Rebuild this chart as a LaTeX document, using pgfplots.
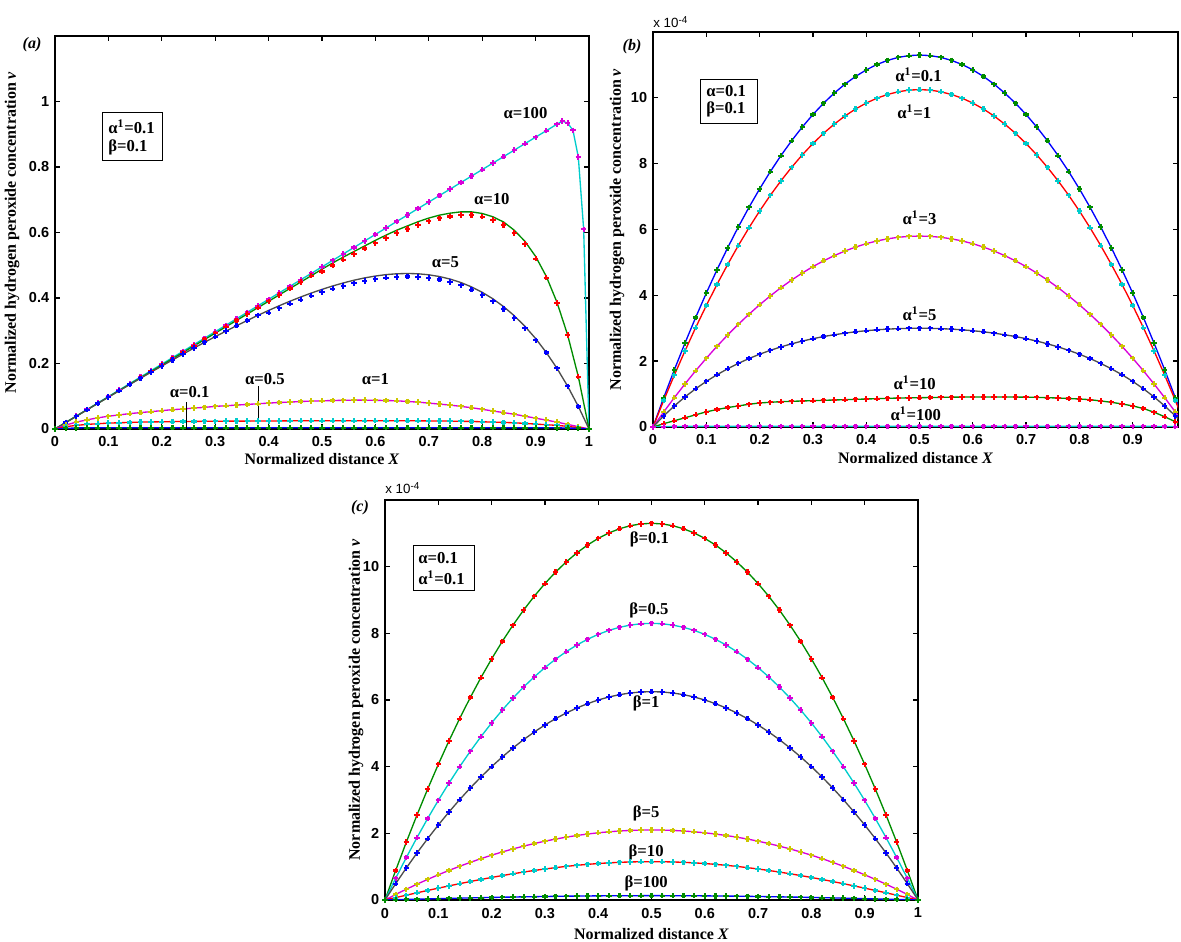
\documentclass[border=0pt]{standalone}
\usepackage{fontspec}
\setmainfont{Liberation Serif}
\newfontfamily\arial{Liberation Sans}
\usepackage{pgfplots}
\usepackage{pgfplotstable}
\pgfplotsset{compat=1.18}
\newlength\px \setlength\px{0.6pt}
\definecolor{mred}{rgb}{1,0,0}
\definecolor{mblue}{rgb}{0,0,1}
\definecolor{mgreen}{rgb}{0,0.55,0}
\definecolor{mmag}{rgb}{0.85,0,0.85}
\definecolor{mcyan}{rgb}{0,0.8,0.8}
\definecolor{myel}{rgb}{0.8,0.78,0}
\definecolor{mgray}{rgb}{0.3,0.3,0.3}
\newcommand\tickfont{\arial\bfseries\fontsize{8.7}{10}\selectfont}
\newcommand\labfont{\bfseries\fontsize{9.6}{11}\selectfont}
\newcommand\annfont{\bfseries\fontsize{10}{12}\selectfont}

\pgfplotstableread{
x a10 a10m a5 a5m a1 a05 a01
0 0 0 0 0 0 0 0
0.02 0.0195 0.0195 0.0196 0.0196 0.012 0.007 0.002
0.04 0.039 0.039 0.0391 0.0391 0.021 0.011 0.003
0.06 0.0585 0.0585 0.0586 0.0586 0.028 0.014 0.004
0.08 0.078 0.078 0.078 0.078 0.034 0.016 0.004
0.10 0.0975 0.0975 0.0974 0.0974 0.039 0.018 0.004
0.12 0.117 0.117 0.1166 0.1166 0.043 0.019 0.004
0.14 0.1365 0.1365 0.1358 0.1358 0.047 0.020 0.004
0.16 0.156 0.156 0.1548 0.1548 0.050 0.021 0.004
0.18 0.1755 0.1755 0.1736 0.1736 0.053 0.0215 0.004
0.20 0.195 0.195 0.1923 0.1923 0.056 0.022 0.004
0.22 0.2145 0.2145 0.2107 0.2107 0.059 0.0225 0.004
0.24 0.234 0.234 0.2289 0.2289 0.061 0.023 0.004
0.26 0.2535 0.2535 0.2469 0.2469 0.064 0.023 0.004
0.28 0.273 0.273 0.2646 0.2646 0.066 0.0235 0.004
0.30 0.2925 0.2925 0.2819 0.2819 0.069 0.0235 0.004
0.32 0.312 0.312 0.2988 0.2988 0.071 0.024 0.004
0.34 0.3315 0.3315 0.3154 0.3154 0.073 0.024 0.004
0.36 0.351 0.351 0.3314 0.3314 0.075 0.024 0.004
0.38 0.3705 0.3705 0.3470 0.3470 0.077 0.0245 0.004
0.40 0.390 0.390 0.3620 0.3548 0.079 0.0245 0.004
0.42 0.4095 0.4095 0.3764 0.3689 0.081 0.0245 0.004
0.44 0.429 0.429 0.3901 0.3823 0.082 0.025 0.004
0.46 0.4485 0.4485 0.4030 0.3949 0.084 0.025 0.004
0.48 0.468 0.468 0.4151 0.4068 0.085 0.025 0.004
0.50 0.488 0.481 0.4263 0.4178 0.086 0.025 0.004
0.52 0.507 0.499 0.4367 0.4280 0.087 0.025 0.004
0.54 0.525 0.517 0.4460 0.4371 0.0875 0.025 0.004
0.56 0.542 0.534 0.4543 0.4452 0.088 0.025 0.004
0.58 0.559 0.551 0.4614 0.4522 0.088 0.025 0.004
0.60 0.576 0.567 0.4670 0.4577 0.0875 0.025 0.004
0.62 0.592 0.583 0.4714 0.4620 0.087 0.025 0.004
0.64 0.607 0.598 0.4739 0.4644 0.086 0.025 0.004
0.66 0.620 0.611 0.4749 0.4654 0.084 0.025 0.004
0.68 0.633 0.623 0.4739 0.4644 0.082 0.025 0.004
0.70 0.644 0.634 0.4708 0.4614 0.079 0.0245 0.004
0.72 0.653 0.643 0.4655 0.4562 0.076 0.0245 0.004
0.74 0.659 0.649 0.4577 0.4485 0.073 0.024 0.004
0.76 0.663 0.653 0.4473 0.4384 0.069 0.0235 0.004
0.78 0.663 0.653 0.4339 0.4252 0.065 0.023 0.004
0.80 0.658 0.648 0.4174 0.4091 0.060 0.022 0.004
0.82 0.648 0.638 0.3975 0.3896 0.055 0.021 0.004
0.84 0.632 0.623 0.3737 0.3662 0.050 0.020 0.004
0.86 0.607 0.598 0.3459 0.3390 0.045 0.019 0.004
0.88 0.573 0.565 0.3134 0.3071 0.039 0.017 0.004
0.90 0.527 0.520 0.2763 0.2708 0.033 0.015 0.004
0.92 0.466 0.462 0.2336 0.2336 0.027 0.013 0.004
0.94 0.387 0.385 0.1854 0.1854 0.021 0.011 0.0035
0.96 0.287 0.287 0.1306 0.1306 0.014 0.008 0.003
0.98 0.160 0.160 0.0689 0.0689 0.007 0.004 0.002
1.00 0 0 0 0 0 0 0
}\tabA

\pgfplotstableread{
x y
0 0
0.02 0.0198
0.04 0.0396
0.06 0.0594
0.08 0.0792
0.10 0.099
0.12 0.1188
0.14 0.1386
0.16 0.1584
0.18 0.1782
0.20 0.198
0.22 0.2178
0.24 0.2376
0.26 0.2574
0.28 0.2772
0.30 0.297
0.32 0.3168
0.34 0.3366
0.36 0.3564
0.38 0.3762
0.40 0.396
0.42 0.4158
0.44 0.4356
0.46 0.4554
0.48 0.4752
0.50 0.495
0.52 0.5148
0.54 0.5346
0.56 0.5544
0.58 0.5742
0.60 0.594
0.62 0.6138
0.64 0.6336
0.66 0.6534
0.68 0.6732
0.70 0.693
0.72 0.7128
0.74 0.7326
0.76 0.7524
0.78 0.7722
0.80 0.792
0.82 0.8118
0.84 0.8316
0.86 0.8514
0.88 0.8712
0.90 0.891
0.92 0.9108
0.94 0.9306
0.95 0.940
0.96 0.934
0.97 0.912
0.98 0.830
0.99 0.610
1.00 0
}\tabH

\pgfplotstableread{
x b01 b1 b3 b5 b10 b100
0 0 0 0 0 0 0
0.02 0.886 0.804 0.455 0.336 0.10 0.010
0.04 1.736 1.574 0.891 0.639 0.19 0.015
0.06 2.549 2.312 1.308 0.915 0.28 0.018
0.08 3.327 3.018 1.708 1.161 0.37 0.020
0.10 4.068 3.690 2.088 1.386 0.46 0.020
0.12 4.773 4.330 2.450 1.587 0.53 0.020
0.14 5.442 4.936 2.793 1.767 0.59 0.020
0.16 6.075 5.510 3.118 1.932 0.64 0.020
0.18 6.672 6.052 3.424 2.079 0.69 0.020
0.20 7.232 6.560 3.712 2.211 0.73 0.020
0.22 7.756 7.036 3.981 2.328 0.75 0.020
0.24 8.244 7.478 4.232 2.433 0.77 0.020
0.26 8.696 7.888 4.464 2.526 0.78 0.020
0.28 9.112 8.266 4.677 2.610 0.79 0.020
0.30 9.492 8.610 4.872 2.682 0.80 0.020
0.32 9.836 8.922 5.048 2.748 0.81 0.020
0.34 10.143 9.200 5.206 2.802 0.82 0.020
0.36 10.414 9.446 5.345 2.850 0.83 0.020
0.38 10.649 9.660 5.466 2.892 0.84 0.020
0.40 10.848 9.840 5.568 2.925 0.85 0.020
0.42 11.011 9.988 5.652 2.952 0.86 0.020
0.44 11.137 10.102 5.716 2.973 0.87 0.020
0.46 11.228 10.184 5.763 2.988 0.88 0.020
0.48 11.282 10.234 5.791 2.997 0.885 0.020
0.50 11.300 10.250 5.800 3.000 0.89 0.020
0.52 11.282 10.234 5.791 2.997 0.895 0.020
0.54 11.228 10.184 5.763 2.988 0.90 0.020
0.56 11.137 10.102 5.716 2.973 0.905 0.020
0.58 11.011 9.988 5.652 2.952 0.91 0.020
0.60 10.848 9.840 5.568 2.925 0.91 0.020
0.62 10.649 9.660 5.466 2.892 0.91 0.020
0.64 10.414 9.446 5.345 2.850 0.91 0.020
0.66 10.143 9.200 5.206 2.802 0.91 0.020
0.68 9.836 8.922 5.048 2.748 0.91 0.020
0.70 9.492 8.610 4.872 2.682 0.905 0.020
0.72 9.112 8.266 4.677 2.610 0.90 0.020
0.74 8.696 7.888 4.464 2.526 0.89 0.020
0.76 8.244 7.478 4.232 2.433 0.88 0.020
0.78 7.756 7.036 3.981 2.328 0.865 0.020
0.80 7.232 6.560 3.712 2.211 0.85 0.020
0.82 6.672 6.052 3.424 2.079 0.83 0.020
0.84 6.075 5.510 3.118 1.932 0.79 0.020
0.86 5.442 4.936 2.793 1.767 0.75 0.020
0.88 4.773 4.330 2.450 1.587 0.70 0.020
0.90 4.068 3.690 2.088 1.386 0.64 0.020
0.92 3.327 3.018 1.708 1.161 0.56 0.020
0.94 2.549 2.312 1.308 0.915 0.45 0.018
0.96 1.736 1.574 0.891 0.639 0.31 0.015
0.98 0.886 0.804 0.455 0.336 0.16 0.010
1.00 0 0 0 0 0 0
}\tabB

\pgfplotstableread{
x c01 c05 c1 c5 c10 c100
0 0 0 0 0 0 0
0.02 0.886 0.651 0.490 0.165 0.072 0.008
0.04 1.736 1.275 0.960 0.323 0.144 0.016
0.06 2.549 1.872 1.410 0.474 0.216 0.024
0.08 3.327 2.444 1.840 0.618 0.286 0.032
0.10 4.068 2.988 2.250 0.756 0.355 0.040
0.12 4.773 3.506 2.640 0.887 0.423 0.048
0.14 5.442 3.997 3.010 1.011 0.490 0.055
0.16 6.075 4.462 3.360 1.129 0.554 0.063
0.18 6.672 4.900 3.690 1.240 0.616 0.070
0.20 7.232 5.312 4.000 1.344 0.676 0.076
0.22 7.756 5.697 4.290 1.441 0.733 0.083
0.24 8.244 6.056 4.560 1.532 0.787 0.089
0.26 8.696 6.388 4.810 1.616 0.838 0.095
0.28 9.112 6.693 5.040 1.693 0.886 0.100
0.30 9.492 6.972 5.250 1.764 0.930 0.105
0.32 9.836 7.224 5.440 1.828 0.971 0.110
0.34 10.143 7.450 5.610 1.885 1.008 0.114
0.36 10.414 7.649 5.760 1.935 1.041 0.118
0.38 10.649 7.822 5.890 1.979 1.069 0.121
0.40 10.848 7.968 6.000 2.016 1.094 0.124
0.42 11.011 8.088 6.090 2.046 1.114 0.126
0.44 11.137 8.180 6.160 2.070 1.130 0.128
0.46 11.228 8.247 6.210 2.087 1.141 0.129
0.48 11.282 8.287 6.240 2.097 1.148 0.130
0.50 11.300 8.300 6.250 2.100 1.150 0.130
0.52 11.282 8.287 6.240 2.097 1.148 0.130
0.54 11.228 8.247 6.210 2.087 1.141 0.129
0.56 11.137 8.180 6.160 2.070 1.130 0.128
0.58 11.011 8.088 6.090 2.046 1.114 0.126
0.60 10.848 7.968 6.000 2.016 1.094 0.124
0.62 10.649 7.822 5.890 1.979 1.069 0.121
0.64 10.414 7.649 5.760 1.935 1.041 0.118
0.66 10.143 7.450 5.610 1.885 1.008 0.114
0.68 9.836 7.224 5.440 1.828 0.971 0.110
0.70 9.492 6.972 5.250 1.764 0.930 0.105
0.72 9.112 6.693 5.040 1.693 0.886 0.100
0.74 8.696 6.388 4.810 1.616 0.838 0.095
0.76 8.244 6.056 4.560 1.532 0.787 0.089
0.78 7.756 5.697 4.290 1.441 0.733 0.083
0.80 7.232 5.312 4.000 1.344 0.676 0.076
0.82 6.672 4.900 3.690 1.240 0.616 0.070
0.84 6.075 4.462 3.360 1.129 0.554 0.063
0.86 5.442 3.997 3.010 1.011 0.490 0.055
0.88 4.773 3.506 2.640 0.887 0.423 0.048
0.90 4.068 2.988 2.250 0.756 0.355 0.040
0.92 3.327 2.444 1.840 0.618 0.286 0.032
0.94 2.549 1.872 1.410 0.474 0.216 0.024
0.96 1.736 1.275 0.960 0.323 0.144 0.016
0.98 0.886 0.651 0.490 0.165 0.072 0.008
1.00 0 0 0 0 0 0
}\tabC

\pgfplotsset{
  panel/.style={
    scale only axis, anchor=south west, enlargelimits=false,
    axis line style={line width=1.1pt, black},
    tick align=inside, major tick length=5\px,
    tick style={line width=0.8pt, black},
    ticklabel style={font=\tickfont},
    /pgf/number format/assume math mode=true,
    xticklabel style={yshift=-2\px},
    label style={font=\labfont},
    xlabel style={at={(axis description cs:0.5,0)}, anchor=center},
    ylabel style={anchor=center},
    xlabel={Normalized distance \textit{X}},
    ylabel={Normalized hydrogen peroxide concentration \textit{v}},
  },
  ln/.style={color=#1, no markers, line width=0.8pt},
  mk/.style={color=#1, only marks, mark=+, mark size=1.6pt, mark options={line width=1.3pt}},
}

\begin{document}
\begin{tikzpicture}
\path[use as bounding box] (0,0) rectangle (1181\px,942\px);

% ---------- panel (a)
\begin{axis}[panel, at={(55\px,513\px)}, width=534\px, height=393\px,
  xmin=0, xmax=1, ymin=0, ymax=1.2,
  xtick={0,0.1,0.2,0.3,0.4,0.5,0.6,0.7,0.8,0.9,1},
  xticklabels={0,0.1,0.2,0.3,0.4,0.5,0.6,0.7,0.8,0.9,1},
  ytick={0,0.2,0.4,0.6,0.8,1}, yticklabels={0,0.2,0.4,0.6,0.8,1},
  xlabel style={yshift=-30\px},
  ylabel style={at={(axis description cs:-0.0805,0.5)}}]
\addplot[ln=mcyan] table[x=x,y=y]{\tabH};
\addplot[mk=mmag] table[x=x,y=y]{\tabH};
\addplot[ln=mgreen] table[x=x,y=a10]{\tabA};
\addplot[mk=mred] table[x=x,y=a10m]{\tabA};
\addplot[ln=mgray] table[x=x,y=a5]{\tabA};
\addplot[mk=mblue] table[x=x,y=a5m]{\tabA};
\addplot[ln=mmag] table[x=x,y=a1]{\tabA};
\addplot[mk=myel] table[x=x,y=a1]{\tabA};
\addplot[ln=mred] table[x=x,y=a05]{\tabA};
\addplot[mk=mcyan] table[x=x,y=a05]{\tabA};
\addplot[ln=mblue] table[x=x,y=a01]{\tabA};
\addplot[mk=mgreen] table[x=x,y=a01]{\tabA};
\node[font=\annfont] at (axis cs:0.881,0.965) {α=100};
\node[font=\annfont] at (axis cs:0.818,0.703) {α=10};
\node[font=\annfont] at (axis cs:0.731,0.51) {α=5};
\node[font=\annfont] at (axis cs:0.252,0.113) {α=0.1};
\node[font=\annfont] at (axis cs:0.393,0.153) {α=0.5};
\node[font=\annfont] at (axis cs:0.600,0.153) {α=1};
\draw[line width=0.6pt] (axis cs:0.2456,0.082) -- (axis cs:0.2456,0);
\draw[line width=0.6pt] (axis cs:0.382,0.131) -- (axis cs:0.382,0.021);
\end{axis}

% ---------- panel (b)
\begin{axis}[panel, at={(653\px,515\px)}, width=525\px, height=395\px,
  xmin=0, xmax=0.985, ymin=0, ymax=12,
  xtick={0,0.1,0.2,0.3,0.4,0.5,0.6,0.7,0.8,0.9},
  xticklabels={0,0.1,0.2,0.3,0.4,0.5,0.6,0.7,0.8,0.9},
  ytick={0,2,4,6,8,10}, yticklabels={0,2,4,6,8,10},
  xlabel style={yshift=-31\px},
  ylabel style={at={(axis description cs:-0.0686,0.5)}}]
\addplot[ln=mblue] table[x=x,y=b01]{\tabB};
\addplot[mk=mgreen] table[x=x,y=b01]{\tabB};
\addplot[ln=mred] table[x=x,y=b1]{\tabB};
\addplot[mk=mcyan] table[x=x,y=b1]{\tabB};
\addplot[ln=mmag] table[x=x,y=b3]{\tabB};
\addplot[mk=myel] table[x=x,y=b3]{\tabB};
\addplot[ln=mgray] table[x=x,y=b5]{\tabB};
\addplot[mk=mblue] table[x=x,y=b5]{\tabB};
\addplot[ln=mgreen] table[x=x,y=b10]{\tabB};
\addplot[mk=mred] table[x=x,y=b10]{\tabB};
\addplot[ln=mcyan] table[x=x,y=b100]{\tabB};
\addplot[mk=mmag] table[x=x,y=b100]{\tabB};
\node[font=\annfont] at (axis cs:0.498,10.69) {α\textsuperscript{1}=0.1};
\node[font=\annfont] at (axis cs:0.490,9.57) {α\textsuperscript{1}=1};
\node[font=\annfont] at (axis cs:0.500,6.35) {α\textsuperscript{1}=3};
\node[font=\annfont] at (axis cs:0.500,3.45) {α\textsuperscript{1}=5};
\node[font=\annfont] at (axis cs:0.491,1.34) {α\textsuperscript{1}=10};
\node[font=\annfont] at (axis cs:0.493,0.40) {α\textsuperscript{1}=100};
\end{axis}

% ---------- panel (c)
\begin{axis}[panel, at={(385\px,42\px)}, width=533\px, height=400\px,
  xmin=0, xmax=1, ymin=0, ymax=12,
  xtick={0,0.1,0.2,0.3,0.4,0.5,0.6,0.7,0.8,0.9,1},
  xticklabels={0,0.1,0.2,0.3,0.4,0.5,0.6,0.7,0.8,0.9,1},
  ytick={0,2,4,6,8,10}, yticklabels={0,2,4,6,8,10},
  xlabel style={yshift=-34\px},
  ylabel style={at={(axis description cs:-0.0544,0.5)}}]
\addplot[ln=mgreen] table[x=x,y=c01]{\tabC};
\addplot[mk=mred] table[x=x,y=c01]{\tabC};
\addplot[ln=mcyan] table[x=x,y=c05]{\tabC};
\addplot[mk=mmag] table[x=x,y=c05]{\tabC};
\addplot[ln=mgray] table[x=x,y=c1]{\tabC};
\addplot[mk=mblue] table[x=x,y=c1]{\tabC};
\addplot[ln=mmag] table[x=x,y=c5]{\tabC};
\addplot[mk=myel] table[x=x,y=c5]{\tabC};
\addplot[ln=mred] table[x=x,y=c10]{\tabC};
\addplot[mk=mcyan] table[x=x,y=c10]{\tabC};
\addplot[ln=mblue] table[x=x,y=c100]{\tabC};
\addplot[mk=mgreen] table[x=x,y=c100]{\tabC};
\node[font=\annfont] at (axis cs:0.496,10.83) {β=0.1};
\node[font=\annfont] at (axis cs:0.495,8.70) {β=0.5};
\node[font=\annfont] at (axis cs:0.490,5.90) {β=1};
\node[font=\annfont] at (axis cs:0.490,2.60) {β=5};
\node[font=\annfont] at (axis cs:0.490,1.44) {β=10};
\node[font=\annfont] at (axis cs:0.490,0.51) {β=100};
\end{axis}

% ---------- outer texts
\node[font=\labfont] at (32\px,897\px) {\textit{(a)}};
\node[font=\labfont] at (632\px,895\px) {\textit{(b)}};
\node[font=\labfont] at (360\px,434\px) {\textit{(c)}};
\node[anchor=west, inner sep=0pt, font=\arial\fontsize{8}{10}\selectfont] at (653\px,920\px) {x 10\textsuperscript{-4}};
\node[anchor=west, inner sep=0pt, font=\arial\fontsize{8}{10}\selectfont] at (385\px,454\px) {x 10\textsuperscript{-4}};

\draw[line width=0.6pt] (102\px,829\px) rectangle (162\px,781\px);
\node[anchor=west, inner sep=0pt, font=\annfont] at (108\px,815\px) {α\textsuperscript{1}=0.1};
\node[anchor=west, inner sep=0pt, font=\annfont] at (108\px,795\px) {β=0.1};

\draw[line width=0.6pt] (700\px,862\px) rectangle (757\px,818\px);
\node[anchor=west, inner sep=0pt, font=\annfont] at (706\px,851\px) {α=0.1};
\node[anchor=west, inner sep=0pt, font=\annfont] at (706\px,833\px) {β=0.1};

\draw[line width=0.6pt] (413\px,396\px) rectangle (474\px,351\px);
\node[anchor=west, inner sep=0pt, font=\annfont] at (418\px,384\px) {α=0.1};
\node[anchor=west, inner sep=0pt, font=\annfont] at (418\px,364\px) {α\textsuperscript{1}=0.1};
\end{tikzpicture}
\end{document}
